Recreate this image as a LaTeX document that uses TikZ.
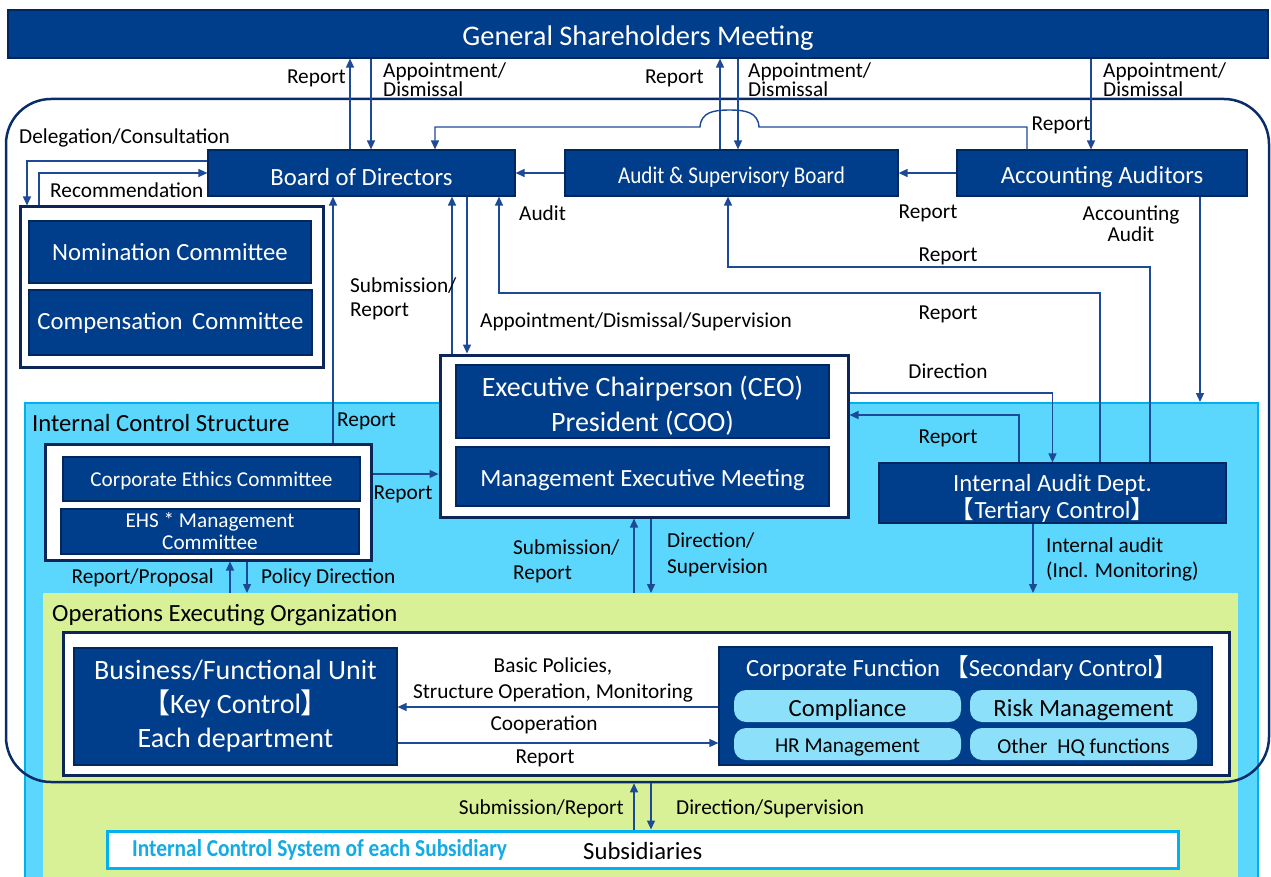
\documentclass[tikz,border=0pt]{standalone}
\usepackage{fontspec}
\setmainfont{Carlito}
\newfontfamily\cjk{Noto Sans CJK JP}
\newfontfamily\condfont{Carlito}[FakeStretch=0.88]
\usetikzlibrary{arrows.meta}
\definecolor{navy}{RGB}{0,61,138}
\definecolor{navyd}{RGB}{0,40,95}
\definecolor{framec}{RGB}{12,38,88}
\definecolor{compc}{RGB}{10,45,105}
\definecolor{linec}{RGB}{28,74,150}
\definecolor{cyanreg}{RGB}{91,215,254}
\definecolor{cyanb}{RGB}{0,176,240}
\definecolor{greenreg}{RGB}{216,241,150}
\definecolor{pillc}{RGB}{140,224,250}
\definecolor{subtext}{RGB}{20,170,230}
\tikzset{
  dbox/.style={fill=navy, draw=navyd, line width=1.2pt, text=white, inner sep=0pt, align=center},
  low/.style={execute at begin node={\rule{0pt}{1.0em}}},
  framebox/.style={fill=white, draw=framec, line width=3pt, inner sep=0pt},
  pill/.style={fill=pillc, draw=none, rounded corners=12pt, inner sep=0pt, text=black,
    minimum width=227pt, minimum height=32pt},
  conn/.style={draw=linec, line width=1.4pt},
  arr/.style={conn, -{Triangle[length=9pt,width=8pt]}},
  lbl/.style={inner sep=0pt, font=\fontsize{21.3}{25}\selectfont, text=black, align=left, yshift=-1.5pt},
  lblc/.style={lbl, align=center},
  big/.style={font=\fontsize{24.7}{27}\selectfont},
  small/.style={font=\fontsize{21.2}{22}\selectfont},
}
\begin{document}
\begin{tikzpicture}[x=1pt,y=-1pt]
\useasboundingbox (0,0) rectangle (1271,877);
% regions
\node[fill=cyanreg, draw=cyanb, line width=1.5pt, minimum width=1233pt, minimum height=480pt, anchor=north west, inner sep=0pt] (ics) at (24,402) {};
\node[fill=greenreg, draw=none, minimum width=1195pt, minimum height=287pt, anchor=north west, inner sep=0pt] (ops) at (43,593) {};
\node[draw=compc, line width=2.5pt, rounded corners=45pt, minimum width=1263pt, minimum height=683pt, inner sep=0pt] (company) at (637.5,440.5) {};
\node[lbl, big, anchor=west] (icslbl) at (32,422) {Internal Control Structure};
\node[lbl, big, anchor=west] (opslbl) at (52,614) {Operations Executing Organization};

% top
\node[dbox, low, minimum width=1260pt, minimum height=48pt, font=\fontsize{28.4}{30}\selectfont] (gsm) at (638,34) {General Shareholders Meeting};
\node[dbox, low, big, minimum width=307pt, minimum height=46pt] (board) at (361.5,173) {Board of Directors};
\node[dbox, low, minimum width=333pt, minimum height=46pt, font=\condfont\fontsize{24}{26}\selectfont] (aud) at (731.5,173) {Audit \& Supervisory Board};
\node[dbox, low, big, minimum width=290pt, minimum height=46pt] (acc) at (1102,173) {Accounting Auditors};

% committees
\node[framebox, minimum width=303pt, minimum height=160pt] (nomout) at (171.5,287) {};
\node[dbox, big, minimum width=282pt, minimum height=62pt] (nom) at (170,252) {Nomination Committee};
\node[dbox, big, minimum width=283pt, minimum height=65pt] (comp) at (170.5,322.5) {Compensation\hspace{4pt} Committee};

% CEO
\node[framebox, minimum width=408pt, minimum height=162pt] (ceoout) at (644,436) {};
\node[dbox, minimum width=373pt, minimum height=73pt, font=\fontsize{28}{35}\selectfont] (ceo) at (642.5,401.5) {\rule{0pt}{1.02em}Executive Chairperson (CEO)\\President (COO)};
\node[dbox, low, big, minimum width=373pt, minimum height=59pt] (mem) at (642.5,476.5) {Management Executive Meeting};

% internal audit
\node[dbox, big, minimum width=347pt, minimum height=60pt] (ia) at (1052.5,493) {\rule{0pt}{1.12em}Internal Audit Dept.\\{\cjk 【}Tertiary Control{\cjk 】}};

% ethics
\node[framebox, minimum width=326pt, minimum height=116pt] (ethout) at (208,502) {};
\node[dbox, small, minimum width=297pt, minimum height=44pt, execute at begin node={\rule{0pt}{0.85em}}] (eth) at (211.5,479) {Corporate Ethics Committee};
\node[dbox, small, minimum width=298pt, minimum height=45pt] (ehs) at (210,531.5) {EHS * Management\\Committee};

% operations
\node[framebox, minimum width=1166pt, minimum height=143pt] (opsin) at (646,703.5) {};
\node[dbox, minimum width=323pt, minimum height=117pt, font=\fontsize{28}{34}\selectfont] (bfu) at (235.5,706.5) {Business/Functional Unit\\{\cjk 【}Key Control{\cjk 】}\\Each department};
\node[dbox, minimum width=493pt, minimum height=118pt] (cf) at (965.5,706) {};
\node[inner sep=0pt, text=white, big] (cftitle) at (962,668) {Corporate Function\hspace{4pt}{\cjk 【}Secondary Control{\cjk 】}};
\node[pill, big, low] (compl) at (847.5,706) {Compliance};
\node[pill, big, low] (risk) at (1083.5,706) {Risk Management};
\node[pill, small, low] (hr) at (847.5,744) {HR Management};
\node[pill, small, low] (other) at (1083.5,744) {Other\hspace{5pt} HQ functions};

% subsidiaries
\node[fill=white, draw=cyanb, line width=3pt, minimum width=1071pt, minimum height=37pt, inner sep=0pt] (sub) at (642.5,849.5) {};
\node[inner sep=0pt, anchor=west, text=subtext, font=\condfont\bfseries\fontsize{24.3}{25}\selectfont] (subic) at (132,850) {Internal Control System of each Subsidiary};
\node[lbl, big, anchor=west] (subname) at (583,850) {Subsidiaries};

% connectors: GSM
\draw[arr] (350,0 |- board.north) -- (350,0 |- gsm.south);
\draw[arr] (371,0 |- gsm.south) -- (371,0 |- board.north);
\draw[arr] (720,0 |- aud.north) -- (720,0 |- gsm.south);
\draw[arr] (738,0 |- gsm.south) -- (738,0 |- aud.north);
\draw[arr] (1091,0 |- gsm.south) -- (1091,0 |- acc.north);
% board level
\draw[arr] (acc.west) -- (aud.east);
\draw[arr] (aud.west) -- (board.east);
\draw[arr] (1027,0 |- acc.north) -- (1027,127) -- (759,127)
  .. controls (758,112) and (745,110) .. (729.5,110)
  .. controls (714,110) and (701,112) .. (700,127)
  -- (435,127) -- (435,0 |- board.north);
\draw[arr] (board.west |- 0,161) -| (27,0 |- nomout.north);
\draw[arr] (39,0 |- nomout.north) |- (board.west);
% verticals to board
\draw[arr] (333,0 |- ethout.north) -- (333,0 |- board.south);
\draw[arr] (452,0 |- ceoout.north) -- (452,0 |- board.south);
\draw[arr] (467,0 |- board.south) -- (467,0 |- ceoout.north);
\draw[arr] (1100,0 |- ia.north) |- (499,293) -- (499,0 |- board.south);
\draw[arr] (1150,0 |- ia.north) |- (728,267) -- (728,0 |- aud.south);
\draw[arr] (1200,0 |- acc.south) -- (1200,0 |- ics.north);
% CEO level
\draw[arr] (ethout.east |- 0,474) -- (ceoout.west |- 0,474);
\draw[arr] (ceoout.east |- 0,393) -| (ia.north);
\draw[arr] (1019,0 |- ia.north) |- (ceoout.east |- 0,415);
\draw[arr] (1033,0 |- ia.south) -- (1033,0 |- ops.north);
\draw[arr] (230,0 |- ops.north) -- (230,0 |- ethout.south);
\draw[arr] (247,0 |- ethout.south) -- (247,0 |- ops.north);
\draw[arr] (634,0 |- ops.north) -- (634,0 |- ceoout.south);
\draw[arr] (651,0 |- ceoout.south) -- (651,0 |- ops.north);
% operations
\draw[arr] (cf.west |- 0,707) -- (bfu.east |- 0,707);
\draw[arr] (bfu.east |- 0,743) -- (cf.west |- 0,743);
% subsidiaries
\draw[arr] (634,0 |- sub.north) -- (634,0 |- company.south);
\draw[arr] (651,0 |- company.south) -- (651,0 |- sub.north);

% labels
\node[lbl, anchor=east] (l1) at (346,77) {Report};
\node[lbl, anchor=west, font=\fontsize{21.3}{17}\selectfont] (l2) at (383,78.5) {Appointment/\\Dismissal};
\node[lbl, anchor=east] (l3) at (704,77) {Report};
\node[lbl, anchor=west, font=\fontsize{21.3}{17}\selectfont] (l4) at (748,78.5) {Appointment/\\Dismissal};
\node[lbl, anchor=west, font=\fontsize{21.3}{17}\selectfont] (l5) at (1103,78.5) {Appointment/\\Dismissal};
\node[lbl, anchor=west] (l6) at (19,136) {Delegation/Consultation};
\node[lbl, anchor=west] (l7) at (50,189) {Recommendation};
\node[lbl] (l8) at (1061,124) {Report};
\node[lbl, anchor=west] (l9) at (519,212) {Audit};
\node[lbl] (l10) at (928,212) {Report};
\node[lblc, font=\fontsize{21.3}{21}\selectfont] (l11) at (1131,222.5) {Accounting\\Audit};
\node[lbl] (l12) at (948,255) {Report};
\node[lbl, anchor=west, font=\fontsize{21.3}{24}\selectfont] (l13) at (350,297) {Submission/\\Report};
\node[lbl] (l14) at (948,313) {Report};
\node[lbl, anchor=west] (l15) at (480,320) {Appointment/Dismissal/Supervision};
\node[lbl] (l16) at (948,370) {Direction};
\node[lbl, anchor=west] (l17) at (337,420) {Report};
\node[lbl] (l18) at (948,437) {Report};
\node[lbl] (l19) at (403,493) {Report};
\node[lbl, anchor=east] (l20) at (214,576) {Report/Proposal};
\node[lbl, anchor=west] (l21) at (261,576) {Policy Direction};
\node[lbl, anchor=west] (l22) at (513,559.5) {Submission/\\Report};
\node[lbl, anchor=west, font=\fontsize{21.3}{26}\selectfont] (l23) at (667,553) {Direction/\\Supervision};
\node[lbl, anchor=west] (l24) at (1046,557.5) {Internal audit\\(Incl. Monitoring)};
\node[lblc, font=\fontsize{21.3}{26}\selectfont] (l25) at (553,678) {Basic Policies,\\Structure Operation, Monitoring};
\node[lbl] (l26) at (544,723) {Cooperation};
\node[lbl] (l27) at (545,757) {Report};
\node[lbl, anchor=east] (l28) at (624,807) {Submission/Report};
\node[lbl, anchor=west] (l29) at (676,807) {Direction/Supervision};
\end{tikzpicture}
\end{document}
